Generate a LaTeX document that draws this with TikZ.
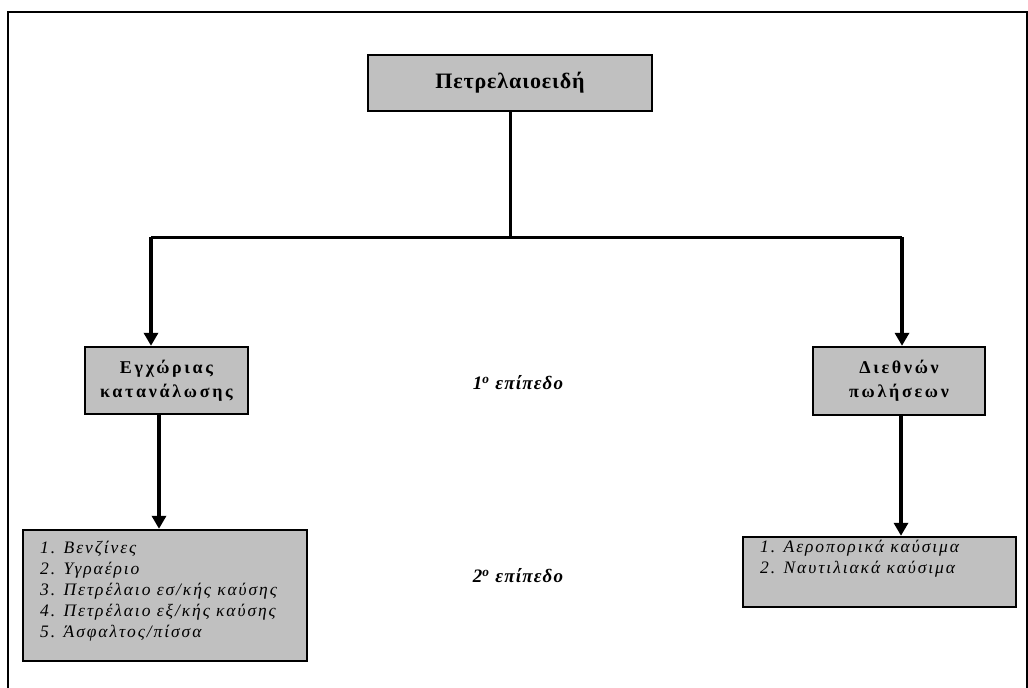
\documentclass[tikz,border=0pt]{standalone}
\usepackage{fontspec}
\setmainfont{Liberation Serif}
\newfontfamily\tsp[LetterSpace=4]{Liberation Serif}
\newfontfamily\bsp[LetterSpace=15]{Liberation Serif}
\newfontfamily\isp[LetterSpace=11]{Liberation Serif}
\newfontfamily\lsp[LetterSpace=6]{Liberation Serif}
\usetikzlibrary{arrows.meta}
\definecolor{boxgray}{RGB}{192,192,192}
\begin{document}
\begin{tikzpicture}[x=1pt,y=-1pt,
  box/.style={draw=black, line width=2.4pt, fill=boxgray, inner sep=0pt},
  ttxt/.style={font=\tsp\bfseries\fontsize{22}{24}\selectfont, align=center},
  btxt/.style={font=\bsp\bfseries\fontsize{18}{24}\selectfont, align=center},
  itxt/.style={font=\isp\itshape\fontsize{17.5}{21}\selectfont, align=left, inner sep=0pt},
  lvl/.style={font=\lsp\bfseries\itshape\fontsize{19}{22}\selectfont, inner sep=0pt},
  conn/.style={line width=3pt},
  arr/.style={line width=4.5pt, -{Triangle[width=14pt,length=13pt]}}]
\useasboundingbox (0,0) rectangle (1028,688);
% frame
\draw[line width=2pt] (7.5,688) -- (7.5,12) -- (1026.5,12) -- (1026.5,688);
% boxes
\node[box, minimum width=284pt, minimum height=56pt, ttxt] (top) at (510,83) {Πετρελαιοειδή};
\node[box, minimum width=163pt, minimum height=67pt, btxt] (lmid) at (166.5,380.5) {Εγχώριας\\κατανάλωσης};
\node[box, minimum width=172pt, minimum height=68pt, btxt] (rmid) at (899,381) {Διεθνών\\πωλήσεων};
\node[box, minimum width=284pt, minimum height=131pt] (lbot) at (165,595.5) {};
\node[box, minimum width=273pt, minimum height=70pt] (rbot) at (879.5,572) {};
\node[itxt, anchor=north west] (ltxt) at (40,541) {1. Βενζίνες\\2. Υγραέριο\\3. Πετρέλαιο εσ/κής καύσης\\4. Πετρέλαιο εξ/κής καύσης\\5. Άσφαλτος/πίσσα};
\node[itxt, anchor=north west] (rtxt) at (760,540) {1. Αεροπορικά καύσιμα\\2. Ναυτιλιακά καύσιμα};
% level labels
\node[lvl] (lv1) at (518,383) {1\textsuperscript{ο} επίπεδο};
\node[lvl] (lv2) at (518,576) {2\textsuperscript{ο} επίπεδο};
% connectors
\coordinate (j) at (510,237);
\coordinate (jl) at (151,237);
\coordinate (jr) at (902,237);
\draw[conn] (top.south) -- (j);
\draw[conn] (jl) -- (jr);
\draw[arr] (jl) -- (jl |- lmid.north);
\draw[arr] (jr) -- (jr |- rmid.north);
\coordinate (ld) at (159,414);
\coordinate (rd) at (901,415);
\draw[arr] (ld) -- (ld |- lbot.north);
\draw[arr] (rd) -- (rd |- rbot.north);
\end{tikzpicture}
\end{document}
